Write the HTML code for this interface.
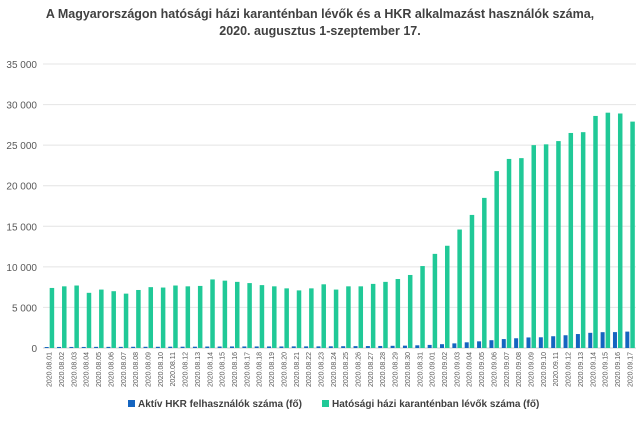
<!DOCTYPE html>
<html><head><meta charset="utf-8"><style>
body{margin:0;background:#fff;font-family:"Liberation Sans",sans-serif;}
</style></head><body>
<svg id="c" width="640" height="417" xmlns="http://www.w3.org/2000/svg">
<text x="320" y="18" text-anchor="middle" font-size="12.5" font-weight="bold" fill="#404040">A Magyarországon hatósági házi karanténban lévők és a HKR alkalmazást  használók száma,</text>
<text x="320" y="35" text-anchor="middle" font-size="12.5" font-weight="bold" fill="#404040">2020. augusztus 1-szeptember 17.</text>
<g id="grid"></g><g id="bars"></g><g id="xl"></g>
<rect x="128" y="400" width="7" height="7" fill="#1565c0"/>
<text x="138" y="407" font-size="10" font-weight="bold" fill="#404040">Aktív HKR felhasználók száma (fő)</text>
<rect x="322" y="400" width="7" height="7" fill="#20c997"/>
<text x="332" y="407" font-size="10" font-weight="bold" fill="#404040">Hatósági házi karanténban lévők száma (fő)</text>
</svg>
<script>
const categories=[];
for(let d=1;d<=31;d++)categories.push('2020.08.'+String(d).padStart(2,'0'));
for(let d=1;d<=17;d++)categories.push('2020.09.'+String(d).padStart(2,'0'));
const hkr=[120,130,130,130,140,140,140,150,150,150,160,160,160,180,180,190,190,190,190,190,200,200,200,210,220,230,240,250,270,290,330,380,470,570,700,820,960,1100,1200,1300,1320,1450,1570,1720,1870,1950,1960,2020];
const quarantine=[7400,7600,7700,6800,7200,7000,6700,7150,7500,7450,7700,7600,7650,8450,8300,8150,8000,7750,7600,7350,7100,7350,7850,7200,7600,7600,7900,8150,8500,9000,10100,11600,12600,14600,16400,18500,21800,23300,23400,25000,25100,25500,26500,26600,28600,29000,28900,27900];
const yTicks=[0,5000,10000,15000,20000,25000,30000,35000];
const NS='http://www.w3.org/2000/svg';
const x0=43,x1=636,y0=348,yTop=64,ymax=35000;
const y=v=>y0-(v/ymax)*(y0-yTop);
const bw=(x1-x0)/categories.length;
function mk(t,a,p){const e=document.createElementNS(NS,t);for(const k in a)e.setAttribute(k,a[k]);p.appendChild(e);return e;}
const g=document.getElementById('grid'),b=document.getElementById('bars'),xl=document.getElementById('xl');
yTicks.forEach(v=>{
 const l=mk('line',{x1:x0,x2:x1,y1:y(v),y2:y(v),stroke:v===0?'#d0d0d0':'#e4e4e4','stroke-width':1},g);
 
 
 const t=mk('text',{x:37,y:y(v)+4,'text-anchor':'end','font-size':10,fill:'#595959'},g);
 t.textContent=v===0?'0':(v/1000)+' 000';
 
 
});
categories.forEach((c,i)=>{
 const cx=x0+bw*(i+0.5);
 const r1=mk('rect',{x:cx-4.5,y:y(hkr[i]),width:4,height:y0-y(hkr[i]),fill:'#1565c0'},b);
 
 
 const r2=mk('rect',{x:cx+0.5,y:y(quarantine[i]),width:4.5,height:y0-y(quarantine[i]),fill:'#20c997'},b);
 
 
 const t=mk('text',{x:0,y:0,'text-anchor':'end','font-size':7,fill:'#595959',transform:`translate(${cx+2.5},352) rotate(-90)`},xl);
 t.textContent=c;
 
 
});
</script>
</body></html>
